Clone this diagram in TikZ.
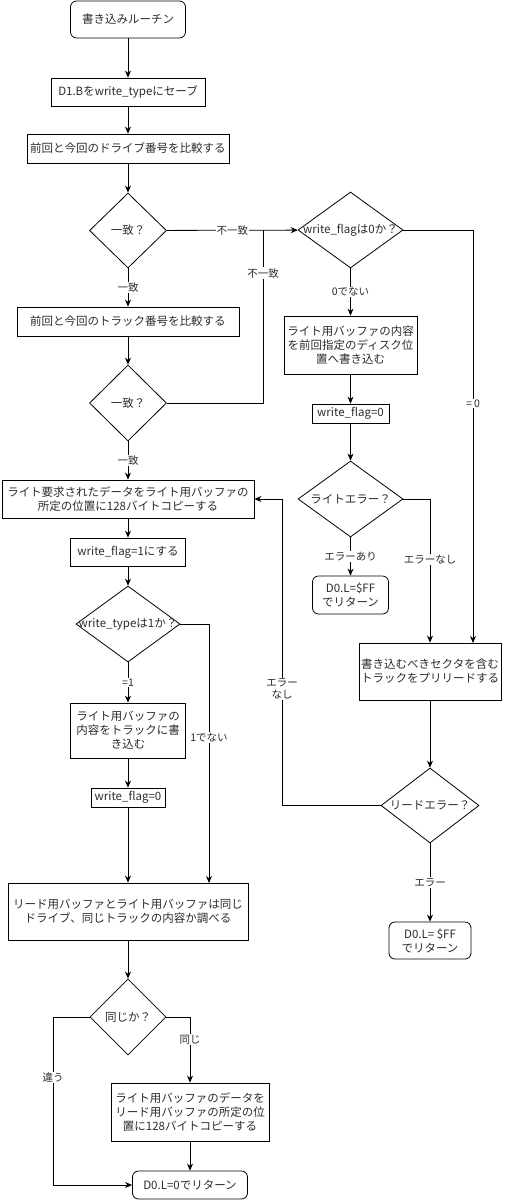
\documentclass[tikz,border=0pt]{standalone}
\usepackage{fontspec}
\setmainfont{Noto Sans CJK JP}
\usetikzlibrary{arrows.meta,shapes.geometric}
\definecolor{cT}{HTML}{2B2B2B}
\newcommand{\dtxt}[1]{\makebox[0pt]{#1}}

\begin{document}
\begin{tikzpicture}[x=1pt,y=-1pt,font=\fontsize{11.5}{14}\selectfont,text=cT,line width=.8pt,
  box/.style={draw,align=center,inner sep=0pt},
  term/.style={box,rounded corners=6pt},
  dec/.style={draw,diamond,inner sep=0pt},
  lbl/.style={fill=white,inner sep=1pt,align=center,font=\fontsize{10.5}{12}\selectfont},
  arr/.style={-{Stealth[length=7pt,width=6pt]}}]
\useasboundingbox (0,0) rectangle (505,1200);
% --- left column ---
\node[term,minimum width=115pt,minimum height=37pt] (start) at (128,19.5) {書き込みルーチン};
\node[box,minimum width=154pt,minimum height=28pt] (save) at (128,92) {D1.Bをwrite\_typeにセーブ};
\node[box,minimum width=202pt,minimum height=29pt] (cmpdrv) at (128,148.5) {前回と今回のドライブ番号を比較する};
\node[dec,minimum width=77pt,minimum height=75pt] (samedrv) at (128,230.5) {\dtxt{一致？}};
\node[box,minimum width=222pt,minimum height=29pt] (cmptrk) at (128,321.5) {前回と今回のトラック番号を比較する};
\node[dec,minimum width=77pt,minimum height=76pt] (sametrk) at (128,403) {\dtxt{一致？}};
\node[box,minimum width=252pt,minimum height=38pt] (copyw) at (128,499) {ライト要求されたデータをライト用バッファの\\所定の位置に128バイトコピーする};
\node[box,minimum width=115pt,minimum height=28pt] (flag1) at (128,552) {write\_flag=1にする};
\node[dec,minimum width=104pt,minimum height=76pt] (wtype) at (128,624) {\dtxt{write\_typeは1か？}};
\node[box,minimum width=115pt,minimum height=55pt] (wrtrk) at (128,730.5) {ライト用バッファの\\内容をトラックに書\\き込む};
\node[box,minimum width=74pt,minimum height=19pt] (flag0b) at (128,797.5) {write\_flag=0};
\node[box,minimum width=240pt,minimum height=57pt] (chkbuf) at (128,911.5) {リード用バッファとライト用バッファは同じ\\ドライブ、同じトラックの内容か調べる};
\node[dec,minimum width=76pt,minimum height=76pt] (same) at (128,1017) {\dtxt{同じか？}};
\node[box,minimum width=158pt,minimum height=58pt] (copyr) at (190,1112) {ライト用バッファのデータを\\リード用バッファの所定の位\\置に128バイトコピーする};
\node[term,minimum width=115pt,minimum height=28pt] (ret0) at (190,1185) {D0.L=0でリターン};
% --- right column ---
\node[dec,minimum width=105pt,minimum height=76pt] (flag0q) at (350.5,230) {\dtxt{write\_flagは0か？}};
\node[box,minimum width=133pt,minimum height=58pt] (wrback) at (350.5,345) {ライト用バッファの内容\\を前回指定のディスク位\\置へ書き込む};
\node[box,minimum width=77pt,minimum height=19pt] (flag0a) at (350.5,413.5) {write\_flag=0};
\node[dec,minimum width=105pt,minimum height=76pt] (werr) at (350.5,499) {\dtxt{ライトエラー？}};
\node[term,minimum width=76pt,minimum height=38pt] (retw) at (350.5,595) {D0.L=\$FF\\でリターン};
\node[box,minimum width=142pt,minimum height=57pt] (prerd) at (430,671.5) {書き込むべきセクタを含む\\トラックをプリリードする};
\node[dec,minimum width=98pt,minimum height=75pt] (rerr) at (430,805.5) {\dtxt{リードエラー？}};
\node[term,minimum width=82pt,minimum height=37pt] (retr) at (430,940.5) {D0.L= \$FF\\でリターン};
% --- bends ---
\coordinate (j1) at (263,230);
\coordinate (eq0) at (473,643);
\coordinate (back) at (282,499);
\coordinate (not1) at (209,883);
\coordinate (diff) at (53,1185);
% --- connectors ---
\draw[arr] (start) -- (save);
\draw[arr] (save) -- (cmpdrv);
\draw[arr] (cmpdrv) -- (samedrv);
\draw[arr] (samedrv) -- node[lbl]{一致} (cmptrk);
\draw[arr] (cmptrk) -- (sametrk);
\draw[arr] (sametrk) -- node[lbl]{一致} (copyw);
\draw[arr] (samedrv) -- node[lbl]{不一致} (flag0q);
\draw (sametrk.east) -| node[lbl,pos=.875]{不一致} (j1);
\draw[arr] (flag0q) -- node[lbl]{0でない} (wrback);
\draw[arr] (wrback) -- (flag0a);
\draw[arr] (flag0a) -- (werr);
\draw[arr] (werr) -- node[lbl]{エラーあり} (retw);
\draw[arr] (werr.east) -| node[lbl,pos=.71]{エラーなし} (prerd.north);
\draw[arr] (flag0q.east) -| node[lbl,pos=.71]{= 0} (eq0);
\draw[arr] (prerd) -- (rerr);
\draw[arr] (rerr) -- node[lbl]{エラー} (retr);
\draw[arr] (rerr.west) -| node[lbl,pos=.69]{エラー\\なし} (back) -- (copyw.east);
\draw[arr] (copyw) -- (flag1);
\draw[arr] (flag1) -- (wtype);
\draw[arr] (wtype) -- node[lbl]{=1} (wrtrk);
\draw[arr] (wrtrk) -- (flag0b);
\draw[arr] (flag0b) -- (chkbuf);
\draw[arr] (wtype.east) -| node[lbl,pos=.72]{1でない} (not1);
\draw[arr] (chkbuf) -- (same);
\draw[arr] (same.east) -| node[lbl,pos=.67]{同じ} (copyr.north);
\draw[arr] (copyr) -- (ret0);
\draw[arr] (same.west) -| node[lbl,pos=.68]{違う} (diff) -- (ret0.west);
\end{tikzpicture}
\end{document}
